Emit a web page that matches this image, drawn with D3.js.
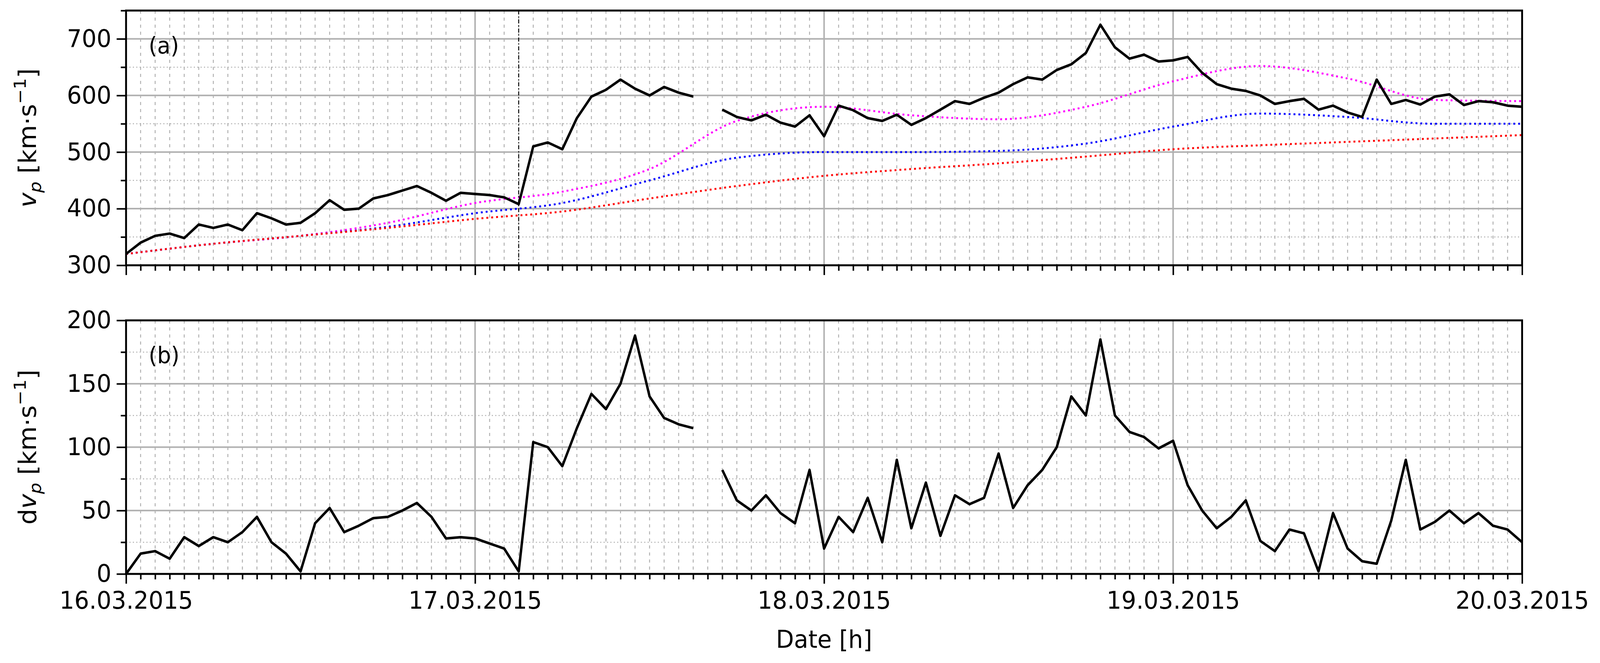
<!DOCTYPE html>
<html><head><meta charset="utf-8">
<script src="https://cdn.jsdelivr.net/npm/d3@7"></script>
<style>html,body{margin:0;padding:0;overflow:hidden;background:#fff}text{font-family:"DejaVu Sans",sans-serif}
#chart{display:block;width:100vw;height:100vh}</style>
</head><body><svg id="chart" viewBox="0 0 4252 1697" preserveAspectRatio="none"></svg>
<script>
// hourly values starting 16.03.2015 00:00
var vp = [320,340,352,356,348,372,366,372,362,392,383,372,375,392,415,398,400,418,424,432,440,428,414,428,426,
  424,420,408,510,517,505,560,598,610,628,612,600,615,605,598,null,575,562,556,566,552,545,565,528,582,574,560,555,
  566,548,560,575,590,585,596,605,620,632,628,645,655,675,725,685,665,672,660,662,668,640,620,612,608,600,585,590,
  594,575,582,570,562,628,585,592,584,598,602,583,590,588,582,580];
var dvp = [0,16,18,12,29,22,29,25,33,45,25,16,2,40,52,33,38,44,45,50,56,45,28,29,28,24,20,2,104,100,85,115,142,
  130,150,188,140,123,118,115,null,82,58,50,62,48,40,82,20,45,33,60,25,90,36,72,30,62,55,60,95,52,70,82,100,140,125,
  185,125,112,108,99,105,70,50,36,45,58,26,18,35,32,2,48,20,10,8,42,90,35,41,50,40,48,38,35,25];
// smooth fits, every 6 hours
var fitMagenta = [320,338,352,375,410,430,470,555,580,565,558,580,625,652,630,592,590];
var fitBlue = [320,338,352,368,392,410,450,490,500,500,502,515,545,568,562,550,550];
var fitRed = [320,338,352,366,382,395,418,440,458,470,480,492,505,512,518,524,530];
var dayTicks = ["16.03.2015","17.03.2015","18.03.2015","19.03.2015","20.03.2015"];
var markerHour = 27;

var svg = d3.select("#chart");
var left = 335, right = 4045;
var x = d3.scaleLinear().domain([0, 96]).range([left, right]);

function panel(top, bottom, domain, major, minor, label, tag, series, fits) {
  var y = d3.scaleLinear().domain(domain).range([bottom, top]);
  var g = svg.append("g");
  // grid
  var minorH = d3.range(domain[0], domain[1] + 0.01, minor).filter(function(v){ return v % major !== 0; });
  var majorH = d3.range(domain[0], domain[1] + 0.01, major);
  var hours = d3.range(1, 96).filter(function(h){ return h % 24 !== 0; });
  g.selectAll(".mx").data(hours).enter().append("line")
    .attr("x1", x).attr("x2", x).attr("y1", top).attr("y2", bottom)
    .attr("stroke", "#b0b0b0").attr("stroke-width", 2.5).attr("stroke-dasharray", "8,10");
  g.selectAll(".my").data(minorH).enter().append("line")
    .attr("x1", left).attr("x2", right).attr("y1", y).attr("y2", y)
    .attr("stroke", "#b0b0b0").attr("stroke-width", 2.5).attr("stroke-dasharray", "3,6");
  g.selectAll(".Mx").data([24, 48, 72]).enter().append("line")
    .attr("x1", x).attr("x2", x).attr("y1", top).attr("y2", bottom)
    .attr("stroke", "#b0b0b0").attr("stroke-width", 4);
  g.selectAll(".My").data(majorH).enter().append("line")
    .attr("x1", left).attr("x2", right).attr("y1", y).attr("y2", y)
    .attr("stroke", "#b0b0b0").attr("stroke-width", 4);

  (fits || []).forEach(function(f) {
    g.append("path").datum(f.v)
      .attr("fill", "none").attr("stroke", f.c).attr("stroke-width", 5).attr("stroke-dasharray", "5,8")
      .attr("d", d3.line().x(function(d, i){ return x(i * 6); }).y(y).curve(d3.curveMonotoneX));
  });
  if (tag === "(a)") {
    g.append("line").attr("x1", x(markerHour)).attr("x2", x(markerHour)).attr("y1", top).attr("y2", bottom)
      .attr("stroke", "#000").attr("stroke-width", 2.5).attr("stroke-dasharray", "10,5,3,5");
  }
  g.append("path").datum(series)
    .attr("fill", "none").attr("stroke", "#000").attr("stroke-width", 6.5).attr("stroke-linejoin", "round")
    .attr("d", d3.line().defined(function(d){ return d !== null; })
      .x(function(d, i){ return x(i); }).y(y));

  // axes
  g.append("g").attr("transform", "translate(" + left + ",0)")
    .call(d3.axisLeft(y).tickValues(majorH).tickSize(25).tickPadding(14).tickFormat(d3.format("d")));
  g.append("g").attr("transform", "translate(" + left + ",0)")
    .call(d3.axisLeft(y).tickValues(minorH).tickSize(14).tickFormat(""));
  g.append("g").attr("transform", "translate(0," + bottom + ")")
    .call(d3.axisBottom(x).tickValues([0, 24, 48, 72, 96]).tickSize(25).tickPadding(20)
      .tickFormat(function(d){ return tag === "(b)" ? dayTicks[d / 24] : ""; }));
  g.append("g").attr("transform", "translate(0," + bottom + ")")
    .call(d3.axisBottom(x).tickValues(hours).tickSize(14).tickFormat(""));
  g.selectAll(".domain").remove();
  g.selectAll(".tick line").attr("stroke-width", 4);
  g.selectAll(".tick text").attr("font-size", 62).attr("fill", "#000");
  g.append("rect").attr("x", left).attr("y", top).attr("width", right - left).attr("height", bottom - top)
    .attr("fill", "none").attr("stroke", "#000").attr("stroke-width", 5);
  g.append("text").attr("x", left + 60).attr("y", top + 110).attr("font-size", 58).text(tag);

  var t = g.append("text").attr("transform", "translate(95," + (top + bottom) / 2 + ") rotate(-90)")
    .attr("text-anchor", "middle").attr("font-size", 64);
  if (label.length > 1) t.append("tspan").text(label.slice(0, -1));
  t.append("tspan").attr("font-style", "italic").text(label.slice(-1));
  t.append("tspan").attr("font-size", 45).attr("font-style", "italic").attr("dy", 14).text("p");
  t.append("tspan").attr("dy", -14).text(" [km\u00b7s");
  t.append("tspan").attr("font-size", 45).attr("dy", -26).text("\u22121");
  t.append("tspan").attr("dy", 26).text("]");
}

panel(27, 679, [300, 750], 100, 50, "v", "(a)", vp, [
  {v: fitMagenta, c: "#ff00ff"}, {v: fitBlue, c: "#0000ff"}, {v: fitRed, c: "#ff0000"}]);
panel(820, 1469, [0, 200], 50, 25, "dv", "(b)", dvp, null);

svg.append("text").attr("x", (left + right) / 2).attr("y", 1658).attr("text-anchor", "middle")
  .attr("font-size", 62).text("Date [h]");
</script></body></html>
